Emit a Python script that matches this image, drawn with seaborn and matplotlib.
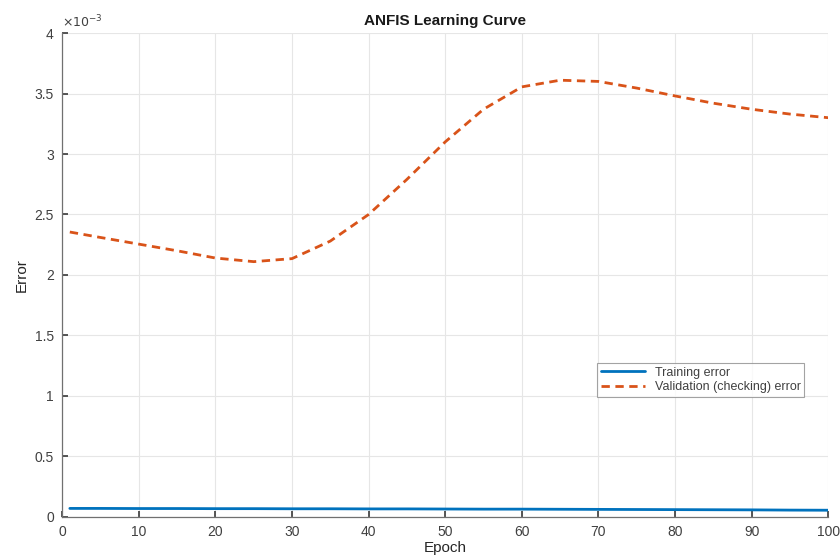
import numpy as np
import pandas as pd
import matplotlib
matplotlib.use("Agg")
import matplotlib.pyplot as plt
import seaborn as sns

epochs = [1, 5, 10, 15, 20, 25, 30, 35, 40, 45, 50, 55, 60, 65, 70, 75, 80, 85, 90, 95, 100]
train_err = [0.070, 0.070, 0.069, 0.069, 0.068, 0.068, 0.067, 0.067, 0.066, 0.066, 0.065,
             0.064, 0.064, 0.063, 0.062, 0.061, 0.060, 0.059, 0.058, 0.056, 0.055]
val_err = [2.355, 2.31, 2.255, 2.20, 2.14, 2.11, 2.135, 2.28, 2.50, 2.79, 3.10,
           3.37, 3.555, 3.61, 3.60, 3.545, 3.48, 3.42, 3.37, 3.33, 3.30]
series_names = ["Training error", "Validation (checking) error"]

df = pd.DataFrame({
    "Epoch": epochs * 2,
    "Error": [v * 1e-3 for v in train_err] + [v * 1e-3 for v in val_err],
    "Series": [series_names[0]] * len(epochs) + [series_names[1]] * len(epochs),
})

sns.set_theme(style="whitegrid")
plt.rcParams["font.family"] = ["Liberation Sans", "DejaVu Sans"]

fig = plt.figure(figsize=(8.4, 5.6), dpi=100)
ax = fig.add_axes([0.074, 0.077, 0.912, 0.864])
sns.lineplot(data=df, x="Epoch", y="Error", hue="Series", style="Series",
             palette={series_names[0]: "#0072BD", series_names[1]: "#D95319"},
             dashes={series_names[0]: "", series_names[1]: (3, 2)},
             linewidth=2, ax=ax)
ax.set_xlim(0, 100)
ax.set_ylim(0, 4e-3)
ax.set_xticks(np.arange(0, 101, 10))
ax.set_yticks(np.arange(0, 4.01e-3, 0.5e-3))
ax.set_yticklabels(["0", "0.5", "1", "1.5", "2", "2.5", "3", "3.5", "4"])
ax.text(0.0, 1.005, r"$\times10^{-3}$", transform=ax.transAxes, fontsize=9,
        color="#404040", ha="left", va="bottom")
ax.set_facecolor("white")
ax.grid(True, color="#e6e6e6", linewidth=0.8)
ax.spines["top"].set_visible(False)
ax.spines["right"].set_visible(False)
for s in ("left", "bottom"):
    ax.spines[s].set_color("#707070")
    ax.spines[s].set_linewidth(0.9)
ax.tick_params(direction="in", length=4, colors="#404040", labelsize=10,
               left=True, bottom=True, top=False, right=False, pad=6)
ax.set_xlabel("Epoch", fontsize=11, color="#262626", labelpad=1)
ax.set_ylabel("Error", fontsize=11, color="#262626")
ax.set_title("ANFIS Learning Curve", fontsize=11, fontweight="bold", color="#1a1a1a", pad=6)
leg = ax.legend(loc="lower left", bbox_to_anchor=(0.69, 0.235), fontsize=9,
                frameon=True, fancybox=False, edgecolor="#8c8c8c", handlelength=3.5,
                borderpad=0.3, labelspacing=0.2)
leg.get_frame().set_linewidth(0.8)
for t in leg.get_texts():
    t.set_color("#404040")
fig.savefig("out.png", dpi=100, facecolor="white")
